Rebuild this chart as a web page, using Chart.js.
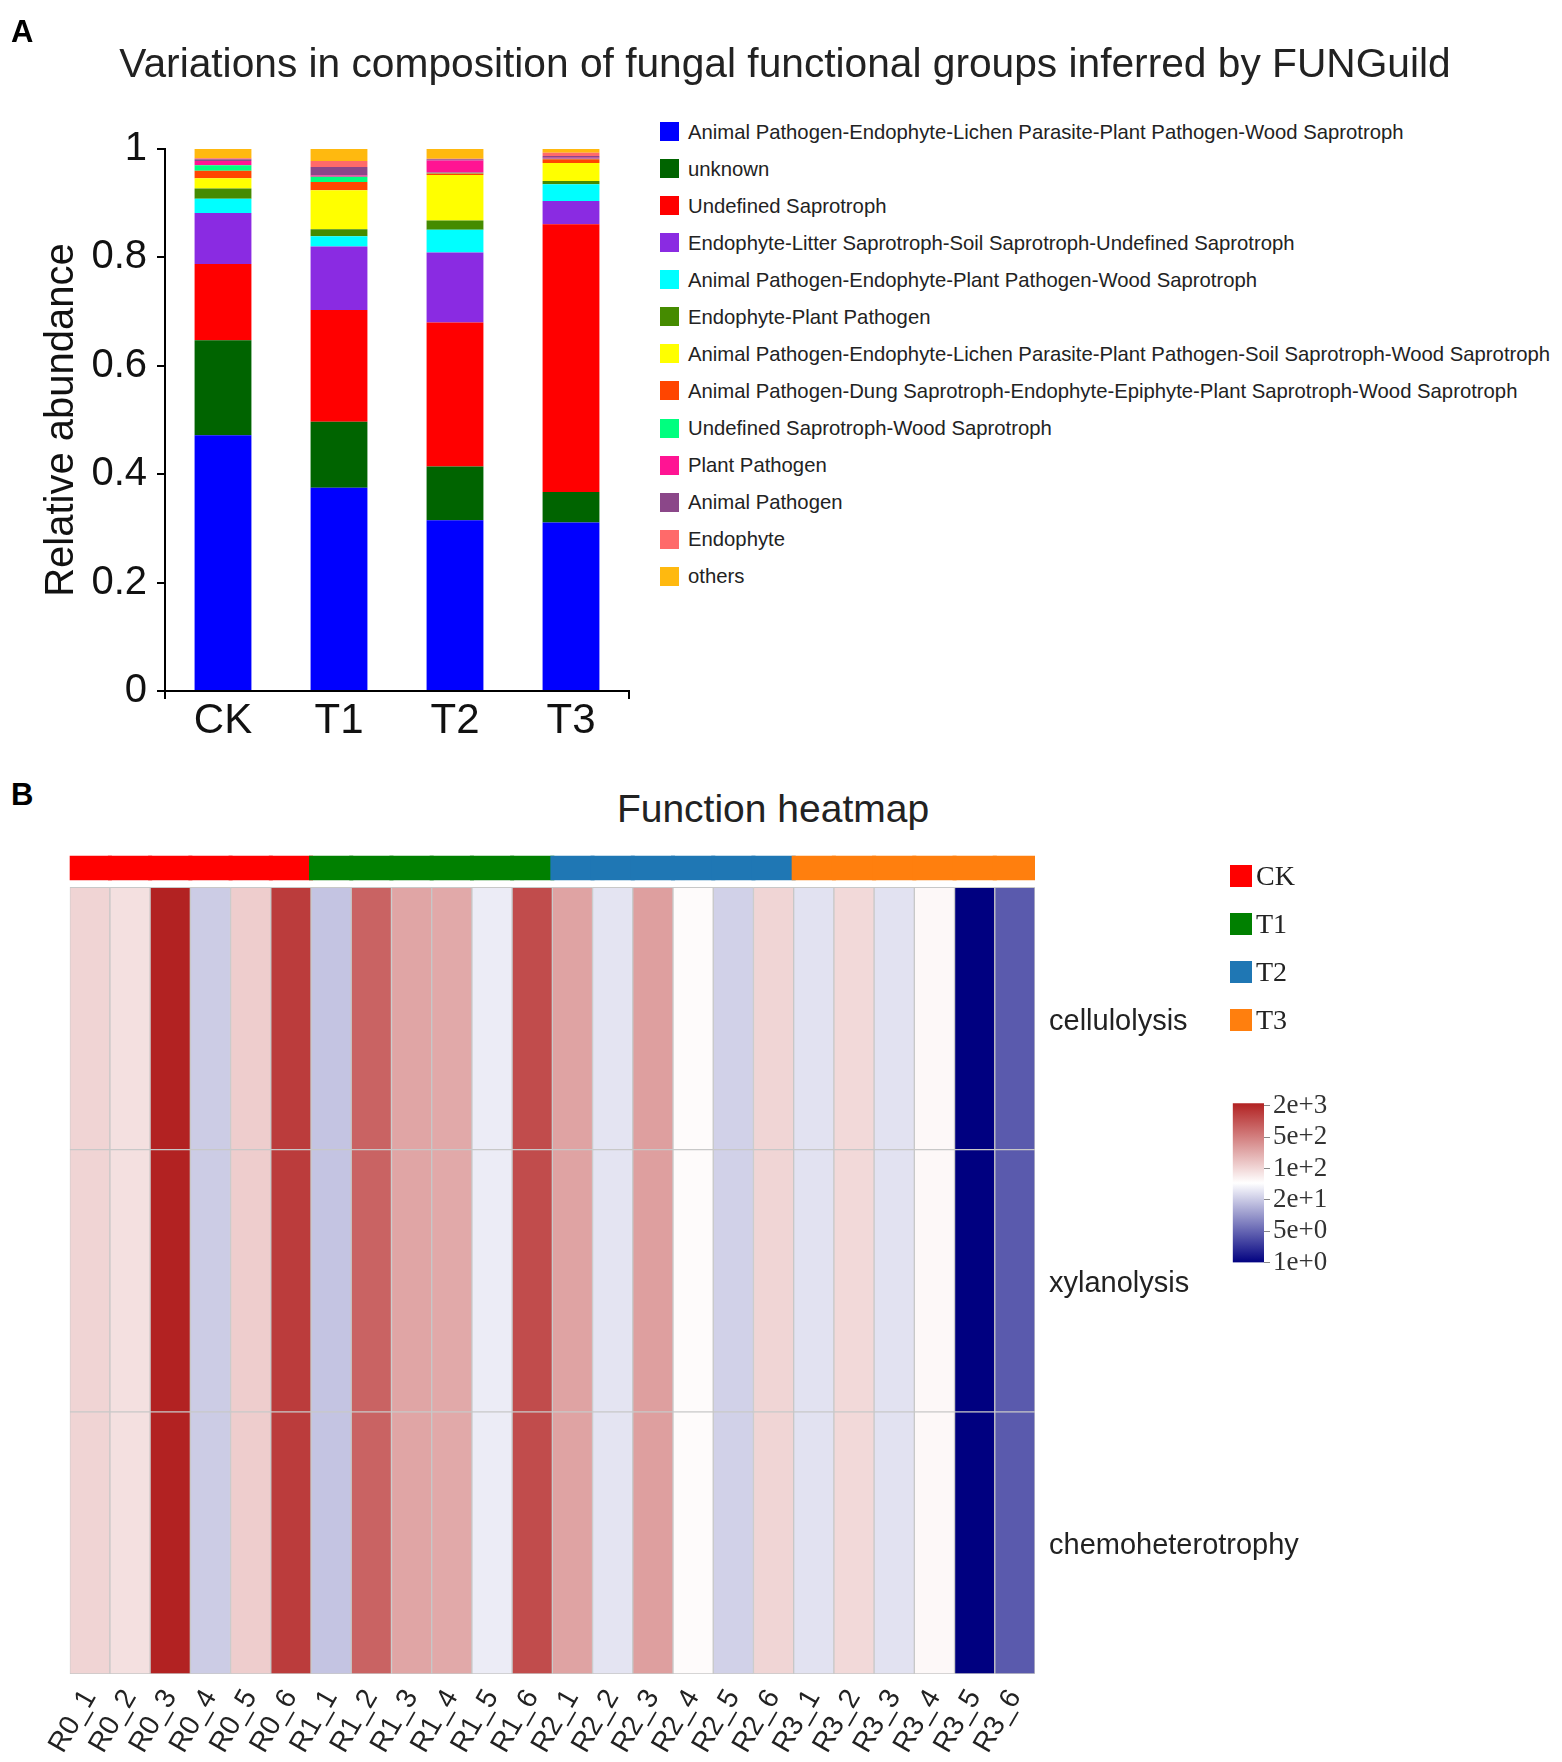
<!DOCTYPE html>
<html><head><meta charset="utf-8">
<script src="https://cdn.jsdelivr.net/npm/chart.js@4.4.1/dist/chart.umd.min.js"></script>
<style>
html,body{margin:0;padding:0;background:#fff;}
body{width:1562px;height:1762px;position:relative;overflow:hidden;font-family:"Liberation Sans",Arial,sans-serif;}
.abs{position:absolute;}
.panel{font-weight:bold;font-size:31px;line-height:37px;color:#000;}
.title{color:#222;white-space:nowrap;transform:translateX(-50%);}
.lt{position:absolute;white-space:nowrap;}
.sw{position:absolute;}
</style></head><body>
<div class="abs" style="left:0;top:0;width:650px;height:760px;"><canvas id="cA"></canvas></div>
<div class="abs" style="left:0;top:832px;width:1320px;height:930px;"><canvas id="cB"></canvas></div>
<div class="abs" style="left:1200px;top:1080px;width:200px;height:210px;"><canvas id="cC"></canvas></div>
<div class="abs panel" style="left:11px;top:13px;">A</div>
<div class="abs title" style="left:785px;top:39px;font-size:40.7px;line-height:48px;">Variations in composition of fungal functional groups inferred by FUNGuild</div>
<div class="abs panel" style="left:11px;top:776px;">B</div>
<div class="abs title" style="left:773px;top:785px;font-size:39px;line-height:47px;">Function heatmap</div>
<div id="legA"></div>
<div id="legB"></div>
<script>
// ---------- Panel A data ----------
const treatments = ['CK', 'T1', 'T2', 'T3'];
const guildNames = [
  'Animal Pathogen-Endophyte-Lichen Parasite-Plant Pathogen-Wood Saprotroph',
  'unknown',
  'Undefined Saprotroph',
  'Endophyte-Litter Saprotroph-Soil Saprotroph-Undefined Saprotroph',
  'Animal Pathogen-Endophyte-Plant Pathogen-Wood Saprotroph',
  'Endophyte-Plant Pathogen',
  'Animal Pathogen-Endophyte-Lichen Parasite-Plant Pathogen-Soil Saprotroph-Wood Saprotroph',
  'Animal Pathogen-Dung Saprotroph-Endophyte-Epiphyte-Plant Saprotroph-Wood Saprotroph',
  'Undefined Saprotroph-Wood Saprotroph',
  'Plant Pathogen',
  'Animal Pathogen',
  'Endophyte',
  'others'
];
const guildColors = ['#0000FF','#006400','#FF0000','#8A2BE2','#00FFFF','#458B00','#FFFF00','#FF4500','#00FF7F','#FF1493','#8B4789','#FF6A6A','#FFB90F'];
const sAP_E_LP_PP_WS    = [0.472, 0.375, 0.315, 0.311];
const sUnknown          = [0.175, 0.122, 0.099, 0.056];
const sUndefSap         = [0.141, 0.206, 0.266, 0.494];
const sE_LS_SS_US       = [0.094, 0.117, 0.129, 0.043];
const sAP_E_PP_WS       = [0.026, 0.019, 0.042, 0.031];
const sE_PP             = [0.019, 0.013, 0.017, 0.006];
const sAP_E_LP_PP_SS_WS = [0.019, 0.072, 0.084, 0.033];
const sAP_DS_E_Ep_PS_WS = [0.014, 0.015, 0.003, 0.007];
const sUS_WS            = [0.010, 0.010, 0.001, 0.001];
const sPlantPath        = [0.008, 0.002, 0.023, 0.002];
const sAnimalPath       = [0.003, 0.016, 0.002, 0.003];
const sEndophyte        = [0.002, 0.011, 0.001, 0.006];
const sOthers           = [0.017, 0.022, 0.018, 0.007];
const yTicks = [0, 0.2, 0.4, 0.6, 0.8, 1];
const yTickLabels = ['0', '0.2', '0.4', '0.6', '0.8', '1'];

// ---------- Panel B data ----------
const samples = ['R0_1','R0_2','R0_3','R0_4','R0_5','R0_6','R1_1','R1_2','R1_3','R1_4','R1_5','R1_6',
                 'R2_1','R2_2','R2_3','R2_4','R2_5','R2_6','R3_1','R3_2','R3_3','R3_4','R3_5','R3_6'];
const hmGroups = ['CK', 'T1', 'T2', 'T3'];
const hmGroupColors = ['#FF0000', '#008000', '#1F77B4', '#FF7F0E'];
const hmFunctions = ['cellulolysis', 'xylanolysis', 'chemoheterotrophy'];
const cellulolysis      = [102, 82, 2300, 22, 115, 1450, 19.6, 740, 230, 215, 36, 1100, 240, 32, 257, 51, 24, 100, 31, 93, 31, 54, 1, 3.9];
const xylanolysis       = [102, 82, 2300, 22, 115, 1450, 19.6, 740, 230, 215, 36, 1100, 240, 32, 257, 51, 24, 100, 31, 93, 31, 54, 1, 3.9];
const chemoheterotrophy = [102, 82, 2300, 22, 115, 1450, 19.6, 740, 230, 215, 36, 1100, 240, 32, 257, 51, 24, 100, 31, 93, 31, 54, 1, 3.9];
const cbTickLabels = ['1e+0', '5e+0', '2e+1', '1e+2', '5e+2', '2e+3'];
const cbMaxValue = 2300;

Chart.defaults.font.family = '"Liberation Sans", Arial, sans-serif';
Chart.defaults.animation = false;
Chart.defaults.plugins.legend.display = false;
Chart.defaults.plugins.tooltip.enabled = false;

// ---------- Panel A chart ----------
const seriesA = [sAP_E_LP_PP_WS, sUnknown, sUndefSap, sE_LS_SS_US, sAP_E_PP_WS, sE_PP, sAP_E_LP_PP_SS_WS,
                 sAP_DS_E_Ep_PS_WS, sUS_WS, sPlantPath, sAnimalPath, sEndophyte, sOthers];
new Chart(document.getElementById('cA'), {
  type: 'bar',
  data: {
    labels: treatments,
    datasets: seriesA.map((d, i) => ({
      label: guildNames[i], data: d, backgroundColor: guildColors[i],
      borderWidth: 0, barPercentage: 0.49, categoryPercentage: 1
    }))
  },
  options: {
    responsive: true, maintainAspectRatio: false,
    layout: { padding: { top: 149, left: 0, right: 21, bottom: 0 } },
    scales: {
      x: {
        stacked: true, offset: true,
        grid: { offset: true, drawOnChartArea: false, tickLength: 8, lineWidth: 2,
                color: (c) => (c.type !== 'tick' || c.index === 0) ? '#000' : 'rgba(0,0,0,0)' },
        border: { display: true, color: '#000', width: 2 },
        ticks: { font: { size: 42, lineHeight: 1 }, color: '#111', padding: 1 },
        afterFit(s) { s.height = 69; }
      },
      y: {
        stacked: true, min: 0, max: 1,
        afterBuildTicks(s) { s.ticks = yTicks.map(v => ({ value: v })); },
        ticks: { font: { size: 40 }, color: '#111', padding: 10, callback: (v, i) => yTickLabels[i] },
        grid: { drawOnChartArea: false, tickLength: 8, lineWidth: 2, color: '#000' },
        border: { color: '#000', width: 2 },
        title: { display: true, text: 'Relative abundance', font: { size: 40, lineHeight: 1 }, color: '#111', padding: { top: 42, bottom: 0 } },
        afterFit(s) { s.width = 165; }
      }
    }
  }
});

// Legend A (HTML)
const legA = document.getElementById('legA');
guildNames.forEach((name, i) => {
  const cy = 131.5 + 37.07 * i;
  const sw = document.createElement('div');
  sw.className = 'sw';
  sw.style.cssText = `left:660px;top:${cy - 9.5}px;width:19px;height:19px;background:${guildColors[i]};`;
  legA.appendChild(sw);
  const t = document.createElement('div');
  t.className = 'lt';
  t.style.cssText = `left:688px;top:${cy - 12}px;font-size:20.3px;line-height:24px;color:#222;`;
  t.textContent = name;
  legA.appendChild(t);
});

// ---------- Heatmap colours ----------
const NAVY = [0, 0, 128], WHITE = [255, 255, 255], FIREBRICK = [178, 34, 34];
function mix(a, b, s) { return a.map((v, k) => Math.round(v + (b[k] - v) * s)); }
function tOf(v) { return Math.max(0, Math.min(1, Math.log10(v) / Math.log10(cbMaxValue))); }
function colorAt(t) {
  const c = t < 0.5 ? mix(NAVY, WHITE, t / 0.5) : mix(WHITE, FIREBRICK, (t - 0.5) / 0.5);
  return `rgb(${c[0]},${c[1]},${c[2]})`;
}
function colorFor(v) { return colorAt(tOf(v)); }

// ---------- Panel B chart ----------
const rowArrays = [cellulolysis, xylanolysis, chemoheterotrophy];
const nRows = rowArrays.length;
const ANN_LO = 3.027, ANN_HI = 3.122;
const groupIndex = (s) => parseInt(s.charAt(1), 10);
const datasetsB = rowArrays.map((arr, r) => ({
  label: hmFunctions[r],
  data: arr.map(() => [nRows - 1 - r, nRows - r]),
  backgroundColor: arr.map(colorFor),
  borderColor: '#C8C8C8', borderWidth: 1, borderSkipped: false,
  grouped: false, barPercentage: 1, categoryPercentage: 1
}));
datasetsB.push({
  label: 'group',
  data: samples.map(() => [ANN_LO, ANN_HI]),
  backgroundColor: samples.map(s => hmGroupColors[groupIndex(s)]),
  borderWidth: 0, grouped: false, barPercentage: 1.1, categoryPercentage: 1
});
new Chart(document.getElementById('cB'), {
  type: 'bar',
  data: { labels: samples, datasets: datasetsB },
  options: {
    responsive: true, maintainAspectRatio: false,
    layout: { padding: { top: 0, left: 69.7, right: 0, bottom: 0 } },
    scales: {
      x: {
        offset: true, grid: { display: false }, border: { display: false },
        ticks: { autoSkip: false, minRotation: 60, maxRotation: 60, font: { size: 28 }, color: '#222', padding: 2 },
        afterFit(s) { s.height = 88; }
      },
      y: {
        position: 'right', min: 0, max: ANN_HI,
        grid: { display: false }, border: { display: false },
        afterBuildTicks(s) { s.ticks = hmFunctions.map((f, i) => ({ value: nRows - 0.513 - i })); },
        ticks: { callback: (v, i) => hmFunctions[i], font: { size: 29 }, color: '#222', padding: 6 },
        afterFit(s) { s.width = 285; }
      }
    }
  }
});

// Legend B (HTML)
const legB = document.getElementById('legB');
hmGroups.forEach((g, i) => {
  const cy = 875.5 + 48.3 * i;
  const sw = document.createElement('div');
  sw.className = 'sw';
  sw.style.cssText = `left:1230px;top:${cy - 11}px;width:22px;height:22px;background:${hmGroupColors[i]};`;
  legB.appendChild(sw);
  const t = document.createElement('div');
  t.className = 'lt';
  t.style.cssText = `left:1256px;top:${cy - 17}px;font-size:28px;line-height:34px;color:#222;font-family:"Liberation Serif","Times New Roman",serif;`;
  t.textContent = g;
  legB.appendChild(t);
});

// ---------- Colour bar ----------
const CB_LO = 0, CB_HI = 5.08;
new Chart(document.getElementById('cC'), {
  type: 'bar',
  data: {
    labels: [''],
    datasets: [{
      data: [[CB_LO, CB_HI]],
      backgroundColor: (ctx) => {
        const a = ctx.chart.chartArea;
        if (!a) return '#fff';
        const g = ctx.chart.ctx.createLinearGradient(0, a.bottom, 0, a.top);
        for (let k = 0; k <= 10; k++) g.addColorStop(k / 10, colorAt(k / 10));
        return g;
      },
      borderWidth: 0, barPercentage: 1, categoryPercentage: 1
    }]
  },
  options: {
    responsive: true, maintainAspectRatio: false,
    layout: { padding: { left: 32.7, top: 23.3, bottom: 27.3, right: 0 } },
    scales: {
      x: { display: false },
      y: {
        position: 'right', min: CB_LO, max: CB_HI,
        afterBuildTicks(s) { s.ticks = cbTickLabels.map((l, i) => ({ value: i })); },
        ticks: { autoSkip: false, callback: (v, i) => cbTickLabels[i], font: { family: '"Liberation Serif","Times New Roman",serif', size: 27 }, color: '#333', padding: 3 },
        grid: { drawOnChartArea: false, tickLength: 6, color: '#888', lineWidth: 1 },
        border: { display: false },
        afterFit(s) { s.width = 136; }
      }
    }
  }
});
</script>
</body></html>
